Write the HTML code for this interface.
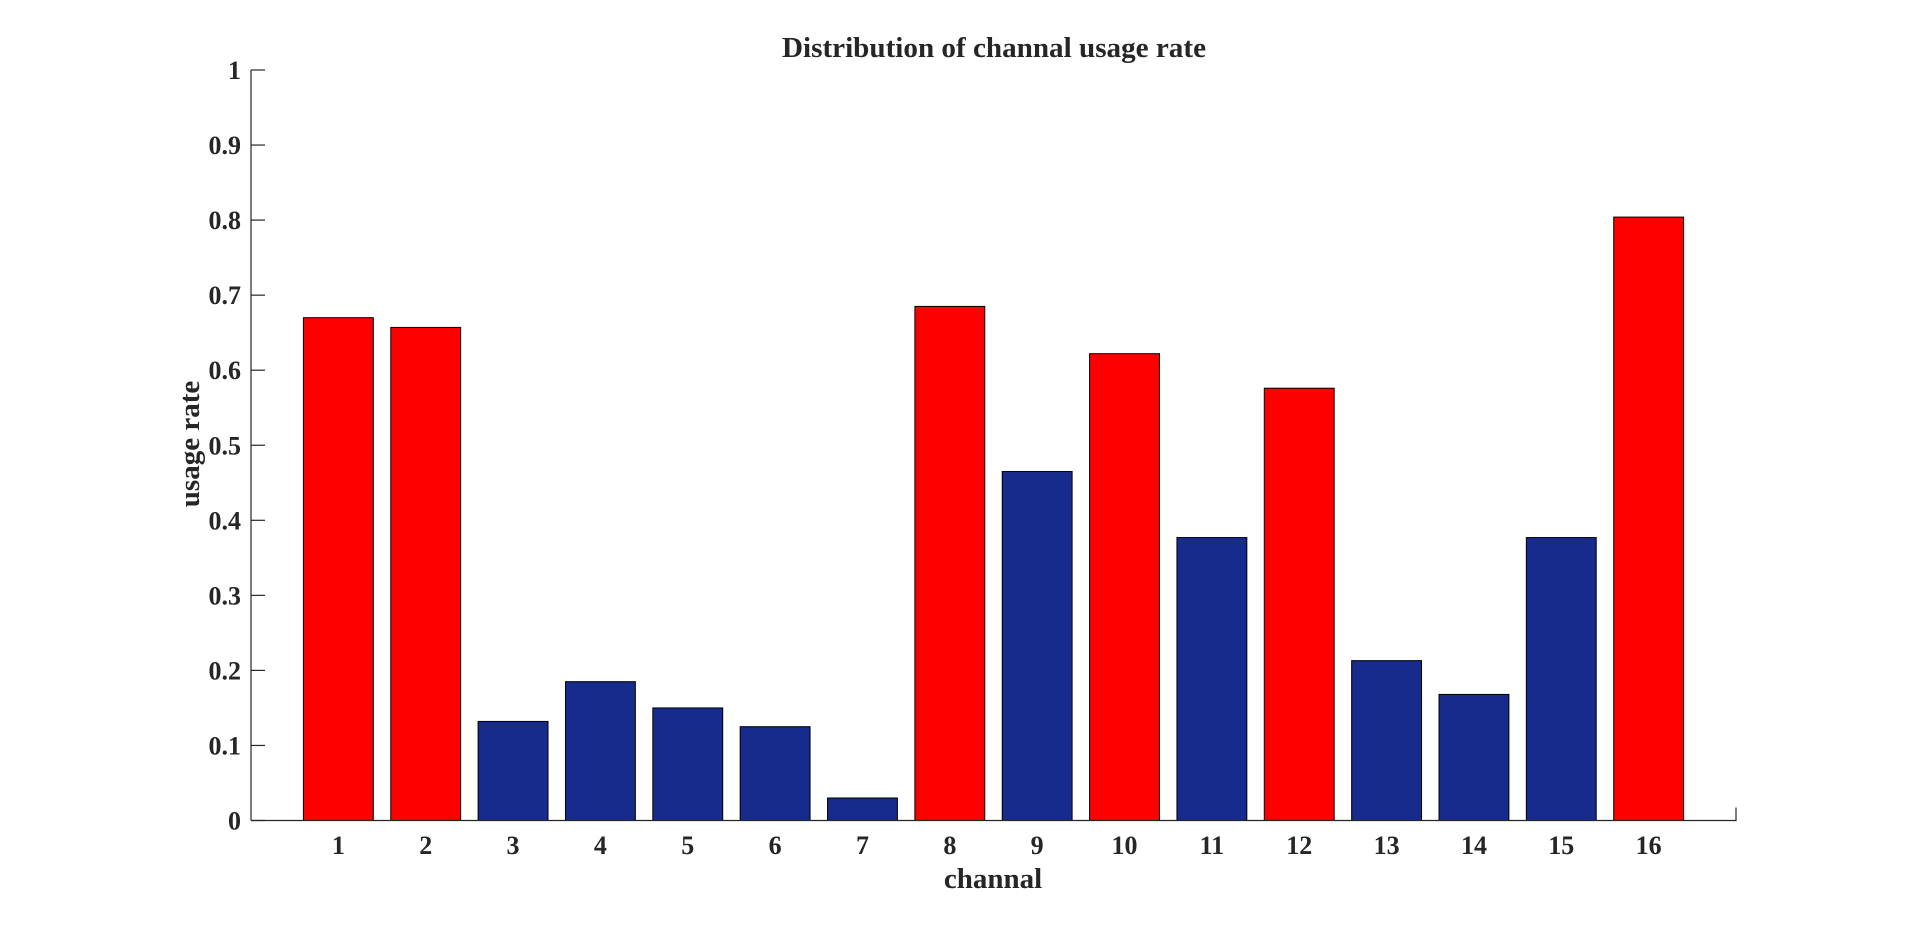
<!DOCTYPE html>
<html><head><meta charset="utf-8"><style>
html,body{margin:0;padding:0;background:#fff;}
svg text{font-family:"Liberation Serif",serif;font-weight:bold;fill:#262626;}
</style></head><body>
<svg id="chart" width="1920" height="922" xmlns="http://www.w3.org/2000/svg">
<text x="994" y="57" font-size="28" text-anchor="middle" fill="#000" textLength="424" lengthAdjust="spacingAndGlyphs">Distribution of channal usage rate</text>
<text x="993" y="888" font-size="29" text-anchor="middle">channal</text>
<text transform="translate(199,444) rotate(-90)" font-size="29" text-anchor="middle">usage rate</text>
<g id="bars"></g>
<g id="axes"></g>
</svg>
<script>
const categories=[1,2,3,4,5,6,7,8,9,10,11,12,13,14,15,16];
const values=[0.670,0.657,0.132,0.185,0.150,0.125,0.030,0.685,0.465,0.622,0.377,0.576,0.213,0.168,0.377,0.804];
const highlighted=[1,1,0,0,0,0,0,1,0,1,0,1,0,0,0,1];
const yTicks=[0,0.1,0.2,0.3,0.4,0.5,0.6,0.7,0.8,0.9,1];
const yTickLabels=["0","0.1","0.2","0.3","0.4","0.5","0.6","0.7","0.8","0.9","1"];
const NS="http://www.w3.org/2000/svg";
const X0=251,X1=1736,Y0=820.5,Y1=70;
const sx=v=>X0+(v-0)/(17-0)*(X1-X0);
const sy=v=>Y0-(v-0)/(1-0)*(Y0-Y1);
function mk(t,a,p){const e=document.createElementNS(NS,t);for(const k in a)e.setAttribute(k,a[k]);p.appendChild(e);return e;}
const bars=document.getElementById('bars'),axes=document.getElementById('axes');
const bw=(sx(1)-sx(0))*0.8;
categories.forEach((c,i)=>{
  const r=mk('rect',{x:sx(c)-bw/2,y:sy(values[i]),width:bw,height:sy(0)-sy(values[i]),fill:highlighted[i]?'#ff0000':'#162b8c',stroke:'#000','stroke-width':1},bars);
  
  
  const t=mk('text',{x:sx(c),y:854,'font-size':26,'text-anchor':'middle'},axes);
  t.textContent=c;
  
  
});
const ya=mk('path',{d:`M${X0},${Y1}V${Y0}`,stroke:'#262626','stroke-width':1.2,fill:'none'},axes);


const xa=mk('path',{d:`M${X0},${Y0}H${X1}V${Y0-13}`,stroke:'#262626','stroke-width':1.2,fill:'none'},axes);


yTicks.forEach((v,i)=>{
  const l=mk('path',{d:`M${X0},${sy(v)}h14`,stroke:'#262626','stroke-width':1.2},axes);
  
  
  const t=mk('text',{x:241,y:sy(v)+9,'font-size':26,'text-anchor':'end'},axes);
  t.textContent=yTickLabels[i];
  
  
});
</script>
</body></html>
